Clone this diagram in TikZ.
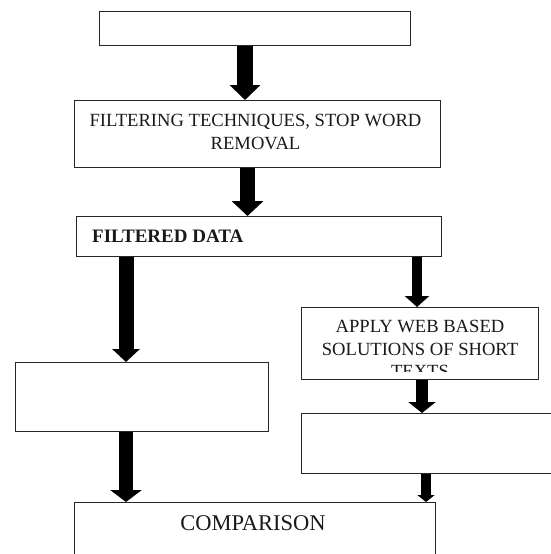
\documentclass[tikz,border=0pt]{standalone}
\usepackage{fontspec}
\setmainfont{Liberation Serif}
\usetikzlibrary{arrows.meta}
\tikzset{
  box/.style={draw=black!85, line width=1pt, rectangle, inner sep=0pt, anchor=north west},
  txt/.style={inner sep=0pt, font=\fontsize{18.6}{22.5}\selectfont, text=black!90},
  blk/.style n args={3}{line width=#1, -{Triangle[width=#2, length=#3]}, black},
}
\begin{document}
\begin{tikzpicture}[x=1pt, y=-1pt]
\useasboundingbox (0,0) rectangle (551,554);
\clip (0,0) rectangle (551,554);
% boxes
\node[box, minimum width=311pt, minimum height=34pt] (b1) at (99,11) {};
\node[box, minimum width=366pt, minimum height=67pt] (b2) at (74,100) {};
\node[txt, anchor=north, align=center] (b2t) at ([xshift=-2pt, yshift=-14pt]b2.north) {FILTERING TECHNIQUES, STOP WORD\\REMOVAL};
\node[box, minimum width=365pt, minimum height=40pt] (b3) at (76,216) {};
\node[txt, anchor=west, font=\fontsize{19}{21}\selectfont\bfseries] (b3t) at ([xshift=16pt]b3.west) {FILTERED DATA};
\node[box, minimum width=253pt, minimum height=69pt] (b4) at (15,362) {};
\node[box, minimum width=237pt, minimum height=72pt] (b5) at (301,307) {};
\begin{scope}
\clip (b5.north west) rectangle ([yshift=9pt]b5.south east);
\node[txt, anchor=north, align=center] (b5t) at ([yshift=-13pt]b5.north) {APPLY WEB BASED\\SOLUTIONS OF SHORT\\TEXTS};
\end{scope}
\node[box, minimum width=270pt, minimum height=60pt] (b6) at (301,413) {};
\node[box, minimum width=361pt, minimum height=80pt] (b7) at (74,502) {};
\node[txt, anchor=north, font=\fontsize{22.5}{26}\selectfont] (b7t) at ([xshift=-2pt, yshift=-13pt]b7.north) {COMPARISON};
% arrows
\draw[blk={16pt}{30pt}{15pt}] (245,0 |- b1.south) -- (245,0 |- b2.north);
\draw[blk={15pt}{31pt}{15pt}] (247.5,0 |- b2.south) -- (247.5,0 |- b3.north);
\draw[blk={15pt}{27pt}{13pt}] (126,0 |- b3.south) -- (126,0 |- b4.north);
\draw[blk={10pt}{24pt}{11pt}] (417,0 |- b3.south) -- (417,0 |- b5.north);
\draw[blk={12pt}{27pt}{11pt}] (422,0 |- b5.south) -- (422,0 |- b6.north);
\draw[blk={14pt}{31pt}{12pt}] (126,0 |- b4.south) -- (126,0 |- b7.north);
\draw[blk={10pt}{17pt}{7pt}] (426,0 |- b6.south) -- (426,0 |- b7.north);
\end{tikzpicture}
\end{document}
